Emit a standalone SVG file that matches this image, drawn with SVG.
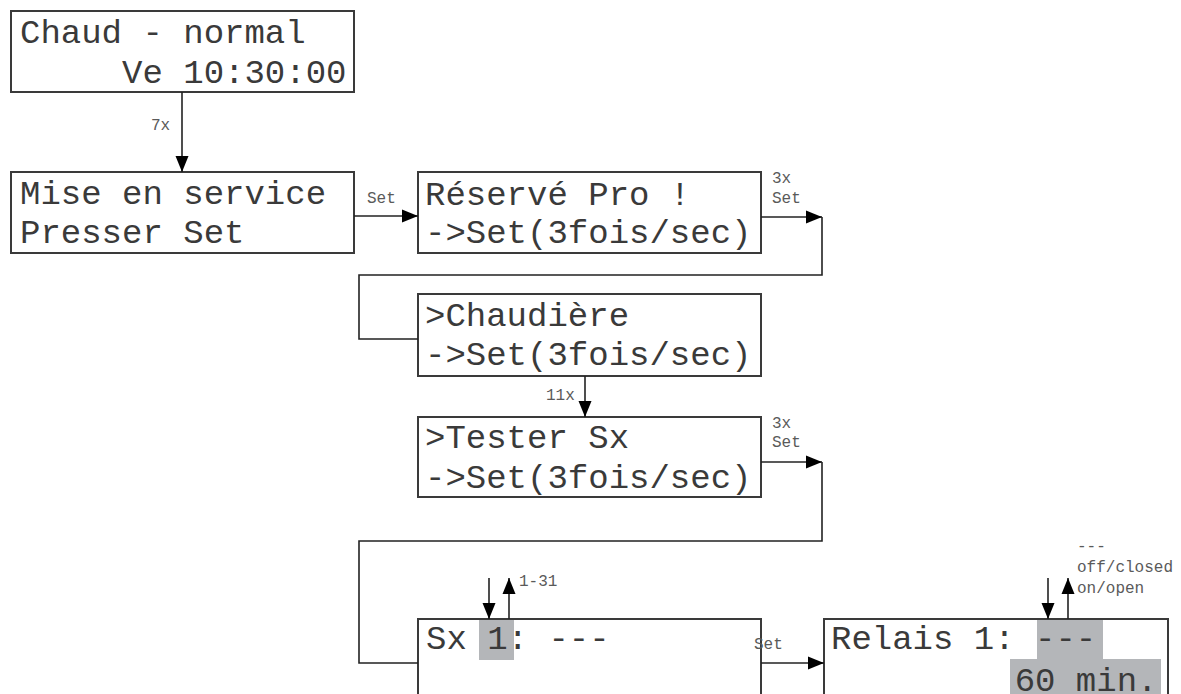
<svg xmlns="http://www.w3.org/2000/svg" width="1181" height="694" viewBox="0 0 1181 694">
<style>
.box{fill:#fff;stroke:#3a3a3a;stroke-width:2}
.hl{fill:#b4b6b9}
.t{font-family:"Liberation Mono","Courier New",monospace;font-size:34px;fill:#3a3a3a;white-space:pre}
.lb{font-family:"Liberation Mono","Courier New",monospace;font-size:16px;fill:#5a5a5a;white-space:pre}
.c{fill:none;stroke:#222;stroke-width:1.6}
</style>
<defs>
<marker id="ah" markerUnits="userSpaceOnUse" markerWidth="17" markerHeight="14" refX="16" refY="7" orient="auto">
<path d="M0,0.5 L16,7 L0,13.5 z" fill="#000"/>
</marker>
</defs>
<rect width="1181" height="694" fill="#fff"/>

<g id="n1">
<rect class="box" x="11" y="11" width="343" height="81"/>
<text class="t" x="20" y="43">Chaud - normal</text>
<text class="t" x="20" y="83">     Ve 10:30:00</text>
</g>
<g id="n2">
<rect class="box" x="11" y="172" width="343" height="81"/>
<text class="t" x="20" y="204">Mise en service</text>
<text class="t" x="20" y="243">Presser Set</text>
</g>
<g id="n3">
<rect class="box" x="418" y="172" width="343" height="81"/>
<text class="t" x="425" y="205">Réservé Pro !</text>
<text class="t" x="425" y="243">-&gt;Set(3fois/sec)</text>
</g>
<g id="n4">
<rect class="box" x="418" y="294" width="343" height="82"/>
<text class="t" x="425" y="326">&gt;Chaudière</text>
<text class="t" x="425" y="365">-&gt;Set(3fois/sec)</text>
</g>
<g id="n5">
<rect class="box" x="418" y="417" width="343" height="80"/>
<text class="t" x="425" y="448">&gt;Tester Sx</text>
<text class="t" x="425" y="488">-&gt;Set(3fois/sec)</text>
</g>
<g id="n6">
<rect class="box" x="418" y="619" width="343" height="90"/>
<rect class="hl" x="479" y="620" width="35" height="40"/>
<text class="t" x="426" y="649">Sx 1: ---</text>
</g>
<g id="n7">
<rect class="box" x="824" y="619" width="344" height="90"/>
<rect class="hl" x="1037" y="620" width="66" height="40"/>
<rect class="hl" x="1010" y="659" width="151" height="40"/>
<text class="t" x="831" y="649">Relais 1: ---</text>
<text class="t" x="831" y="691">         60 min.</text>
</g>

<g id="connectors">
<path class="c" d="M182,92 V172" marker-end="url(#ah)"/>
<path class="c" d="M354,216 H418" marker-end="url(#ah)"/>
<path class="c" d="M761,217 H822" marker-end="url(#ah)"/>
<path class="c" d="M822,217 V275 H359 V339 H418"/>
<path class="c" d="M585,376 V417" marker-end="url(#ah)"/>
<path class="c" d="M761,462 H822" marker-end="url(#ah)"/>
<path class="c" d="M822,462 V541 H359 V663 H418"/>
<path class="c" d="M761,663 H824" marker-end="url(#ah)"/>
<path class="c" d="M489,578 V619" marker-end="url(#ah)"/>
<path class="c" d="M509,619 V578" marker-end="url(#ah)"/>
<path class="c" d="M1048,578 V619" marker-end="url(#ah)"/>
<path class="c" d="M1068,619 V578" marker-end="url(#ah)"/>
</g>

<g id="labels">
<text class="lb" x="151" y="130">7x</text>
<text class="lb" x="367" y="203">Set</text>
<text class="lb" x="772" y="183">3x</text>
<text class="lb" x="772" y="203">Set</text>
<text class="lb" x="546" y="400">11x</text>
<text class="lb" x="772" y="428">3x</text>
<text class="lb" x="772" y="447">Set</text>
<text class="lb" x="519" y="586">1-31</text>
<text class="lb" x="754" y="649">Set</text>
<text class="lb" x="1077" y="551">---</text>
<text class="lb" x="1077" y="572">off/closed</text>
<text class="lb" x="1077" y="593">on/open</text>
</g>
</svg>
